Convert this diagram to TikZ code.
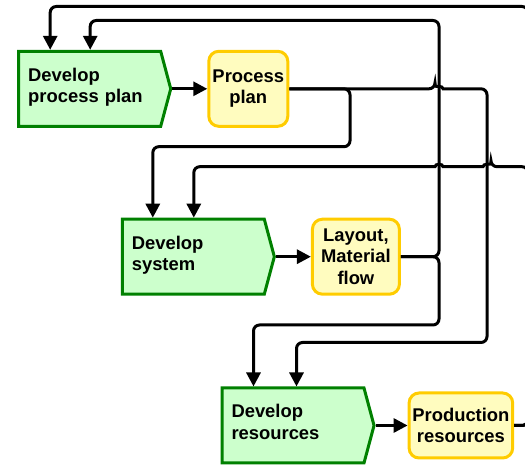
\documentclass[tikz,border=0pt]{standalone}
\usepackage{fontspec}
\setsansfont{Liberation Sans}
\usetikzlibrary{shapes.symbols, arrows.meta, positioning, calc}
\definecolor{boxGold}{HTML}{FFCC00}
\tikzset{
    font=\sffamily\bfseries\fontsize{18.4}{21.5}\selectfont,
    >={Triangle[length=14pt, width=14pt]},
    % Colors
    compGreen/.style={draw=green!50!black, fill=green!20},
    compYellow/.style={draw=boxGold, fill=yellow!25},
    % Shapes
    task/.style={signal, signal to=east, signal pointer angle=150, line width=3pt,
                 text width=123pt, text depth=28.5pt, inner xsep=9.5pt, inner ysep=2pt,
                 minimum height=75pt, align=left, compGreen},
    info/.style={rectangle, line width=3pt, rounded corners=10pt, minimum height=75pt,
                 inner sep=2pt, align=center, compYellow},
    % Flow
    flow/.style={->, line width=3pt, rounded corners=6pt}
}

\begin{document}
\begin{tikzpicture}[x=1pt, y=1pt, node distance=35pt]
\useasboundingbox (0,0) rectangle (525,466);

\node[task, anchor=west] (dpp) at (17.2,377.2) {Develop\\process plan};
\node[info, minimum width=79pt, right=of dpp] (pp) {Process\\plan};
\node[task, anchor=west] (dsys) at (120.8,209.3) {Develop\\system};
\node[info, minimum width=87pt, right=of dsys] (layout) {Layout,\\Material\\flow};
\node[task, anchor=west] (dres) at (220.5,40.5) {Develop\\resources};
\node[info, minimum width=103.6pt, minimum height=65pt, right=32pt of dres] (prod) {Production\\resources};

\draw[flow] (dpp.east) -- (pp.west);
\draw[flow] (dsys.east) -- (layout.west);
\draw[flow] (dres.east) -- (prod.west);

% process plan feeds both lower steps
\draw[flow] (pp.east) -| (350,319.3) -| ($(dsys.north west)+(32,0)$);
\draw[flow] (pp.east) -- (435,377.2)
    [sharp corners] arc[start angle=180, end angle=0, x radius=4, y radius=2.5]
    [rounded corners=6pt] -| (487,123.5) -| ($(dres.north west)+(76,0)$);

% layout goes back up and on down
\draw[flow] (layout.east) -| (439,445.5) -| ($(dpp.north west)+(73,0)$);
\draw[flow] (layout.east) -| (439,141) -| ($(dres.north west)+(33,0)$);

% resources loop back along the right side
\draw[flow] (prod.east) -| (528,459.5) -| ($(dpp.north west)+(33,0)$);
\draw[flow] (prod.east) -| (528,299.3) -- (491,299.3)
    [sharp corners] arc[start angle=0, end angle=180, x radius=4, y radius=2.5] -- (443,299.3)
    arc[start angle=0, end angle=180, x radius=4, y radius=2.5]
    [rounded corners=6pt] -| ($(dsys.north west)+(73,0)$);

\end{tikzpicture}
\end{document}
